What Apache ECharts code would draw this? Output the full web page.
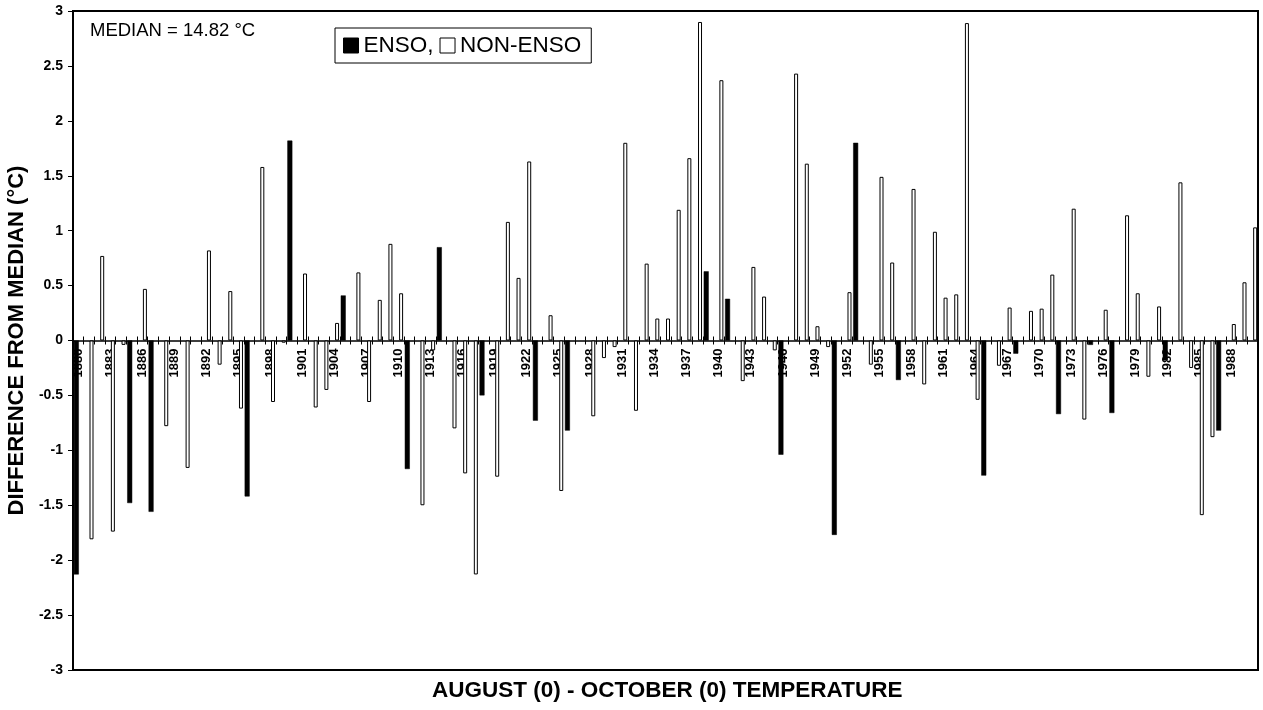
<!DOCTYPE html>
<html>
<head>
<meta charset="utf-8">
<script src="https://cdn.jsdelivr.net/npm/echarts@6/dist/echarts.min.js"></script>
<style>
html,body{margin:0;padding:0;background:#fff;}
#chart{width:1263px;height:710px;}
</style>
</head>
<body>
<div id="chart"></div>
<script>
var years = [
'1880','1881','1882','1883','1884','1885','1886','1887','1888','1889',
'1890','1891','1892','1893','1894','1895','1896','1897','1898','1899',
'1900','1901','1902','1903','1904','1905','1906','1907','1908','1909',
'1910','1911','1912','1913','1914','1915','1916','1917','1918','1919',
'1920','1921','1922','1923','1924','1925','1926','1927','1928','1929',
'1930','1931','1932','1933','1934','1935','1936','1937','1938','1939',
'1940','1941','1942','1943','1944','1945','1946','1947','1948','1949',
'1950','1951','1952','1953','1954','1955','1956','1957','1958','1959',
'1960','1961','1962','1963','1964','1965','1966','1967','1968','1969',
'1970','1971','1972','1973','1974','1975','1976','1977','1978','1979',
'1980','1981','1982','1983','1984','1985','1986','1987','1988','1989',
'1990'];

var enso = [
-2.13, null, null, null, null, -1.48, null, -1.56, null, null,
null, null, null, null, null, null, -1.42, null, null, null,
1.82, null, null, null, null, 0.41, null, null, null, null,
null, -1.17, null, null, 0.85, null, null, null, -0.50, null,
null, null, null, -0.73, null, null, -0.82, null, null, null,
null, null, null, null, null, null, null, null, null, 0.63,
null, 0.38, null, null, null, null, -1.04, null, null, null,
null, -1.77, null, 1.80, null, null, null, -0.36, null, null,
null, null, null, null, null, -1.23, null, null, -0.12, null,
null, null, -0.67, null, null, -0.04, null, -0.66, null, null,
null, null, -0.18, null, null, null, null, -0.82, null, null,
null];

var nonEnso = [
null, -1.81, 0.77, -1.74, -0.04, null, 0.47, null, -0.78, null,
-1.16, null, 0.82, -0.22, 0.45, -0.62, null, 1.58, -0.56, -0.02,
null, 0.61, -0.61, -0.45, 0.16, null, 0.62, -0.56, 0.37, 0.88,
0.43, null, -1.50, -0.09, null, -0.80, -1.21, -2.13, null, -1.24,
1.08, 0.57, 1.63, null, 0.23, -1.37, null, null, -0.69, -0.16,
-0.06, 1.80, -0.64, 0.70, 0.20, 0.20, 1.19, 1.66, 2.90, null,
2.37, null, -0.37, 0.67, 0.40, -0.09, null, 2.43, 1.61, 0.13,
-0.06, null, 0.44, null, -0.22, 1.49, 0.71, null, 1.38, -0.40,
0.99, 0.39, 0.42, 2.89, -0.54, null, -0.23, 0.30, null, 0.27,
0.29, 0.60, null, 1.20, -0.72, null, 0.28, null, 1.14, 0.43,
-0.33, 0.31, null, 1.44, -0.25, -1.59, -0.88, null, 0.15, 0.53,
1.03];

var FONT = '"Liberation Sans", Arial, sans-serif';
var GRID_TOP = 11, GRID_BOTTOM = 40, H = 710;
var zeroOffset = -((H - GRID_TOP - GRID_BOTTOM) / 2);

var chart = echarts.init(document.getElementById('chart'), null, {renderer: 'canvas'});
chart.setOption({
  animation: false,
  backgroundColor: '#fff',
  textStyle: {fontFamily: FONT, color: '#000'},
  grid: {left: 73, right: 5, top: GRID_TOP, bottom: GRID_BOTTOM, containLabel: false, outerBoundsMode: 'none',
         show: true, borderColor: '#000', borderWidth: 2, backgroundColor: 'transparent'},
  legend: {
    left: 335, top: 28,
    orient: 'horizontal',
    borderColor: '#000', borderWidth: 1,
    padding: [6, 10, 6, 8],
    itemGap: 6,
    itemWidth: 15, itemHeight: 15,
    selectedMode: false,
    textStyle: {fontFamily: FONT, fontSize: 22.5, color: '#000'},
    formatter: function (n) { return n === 'ENSO' ? 'ENSO,' : n; },
    data: [
      {name: 'ENSO', icon: 'rect', itemStyle: {color: '#000', borderColor: '#000', borderWidth: 1}},
      {name: 'NON-ENSO', icon: 'rect', itemStyle: {color: '#fff', borderColor: '#000', borderWidth: 1}}
    ]
  },
  graphic: [
    {type: 'text', left: 90, top: 21, style: {text: 'MEDIAN = 14.82 °C', font: '18.5px ' + FONT, fill: '#000'}},
    {type: 'text', left: 432, top: 679, style: {text: 'AUGUST (0) - OCTOBER (0) TEMPERATURE', font: 'bold 22.5px ' + FONT, fill: '#000'}}
  ],
  xAxis: [{
    type: 'category',
    data: years,
    boundaryGap: true,
    position: 'bottom',
    offset: zeroOffset,
    axisLine: {onZero: false, lineStyle: {color: '#000', width: 1.5}},
    axisTick: {show: true, interval: 0, length: 4, lineStyle: {color: '#000', width: 1}},
    axisLabel: {interval: 2, rotate: 90, margin: 8, fontFamily: FONT, fontWeight: 'bold', fontSize: 13, color: '#000'},
    splitLine: {show: false}
  }, {
    type: 'category',
    data: years,
    boundaryGap: true,
    position: 'bottom',
    offset: zeroOffset,
    axisLine: {show: false, onZero: false},
    axisTick: {show: true, inside: true, interval: 0, length: 4, lineStyle: {color: '#000', width: 1}},
    axisLabel: {show: false},
    splitLine: {show: false}
  }],
  yAxis: {
    type: 'value',
    min: -3, max: 3, interval: 0.5,
    name: 'DIFFERENCE FROM MEDIAN (°C)',
    nameLocation: 'middle',
    nameRotate: 90,
    nameGap: 42,
    nameTextStyle: {fontFamily: FONT, fontWeight: 'bold', fontSize: 22, color: '#000'},
    axisLine: {show: true, lineStyle: {color: '#000', width: 2}},
    axisTick: {show: true, length: 5, lineStyle: {color: '#000'}},
    axisLabel: {fontFamily: FONT, fontWeight: 'bold', fontSize: 14, color: '#000', margin: 10},
    splitLine: {show: false}
  },
  series: [{
    name: 'ENSO',
    type: 'bar',
    data: enso,
    barWidth: 5,
    barGap: '0%',
    itemStyle: {color: '#000', borderColor: '#000', borderWidth: 0.5}
  }, {
    name: 'NON-ENSO',
    type: 'bar',
    data: nonEnso,
    barWidth: 4,
    barGap: '0%',
    itemStyle: {color: '#fff', borderColor: '#000', borderWidth: 1}
  }]
});
</script>
</body>
</html>
